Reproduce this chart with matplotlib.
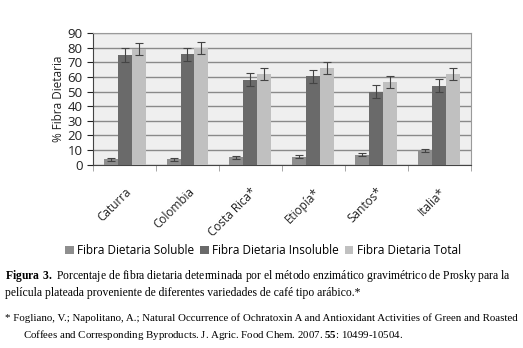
import numpy as np
import matplotlib
matplotlib.use("Agg")
import matplotlib.pyplot as plt
from matplotlib.transforms import ScaledTranslation

# Datos
variedades = ["Caturra", "Colombia", "Costa Rica*", "Etiopía*", "Santos*", "Italia*"]
soluble = [3.8, 3.8, 5.0, 5.5, 6.8, 9.8]
insoluble = [75.0, 75.5, 58.0, 60.5, 50.0, 54.0]
total = [79.0, 80.0, 62.0, 66.0, 56.5, 62.0]
err_soluble = [1.0, 1.0, 1.0, 1.0, 1.0, 1.2]
err_insoluble = [4.5, 4.5, 4.5, 4.5, 4.5, 4.5]
err_total = [4.0, 4.0, 4.0, 4.0, 4.0, 4.0]
series = ["Fibra Dietaria Soluble", "Fibra Dietaria Insoluble", "Fibra Dietaria Total"]

colores = ["#8e8e8e", "#6a6a6a", "#c0c0c0"]
plt.rcParams["font.family"] = ["Open Sans", "DejaVu Sans"]
plt.rcParams["mathtext.fontset"] = "custom"
plt.rcParams["mathtext.rm"] = "Liberation Serif"
plt.rcParams["mathtext.bf"] = "Liberation Serif:bold"

fig = plt.figure(figsize=(5.23, 3.48), dpi=100)
ax = fig.add_axes([0.178, 0.527, 0.722, 0.378])
ax.set_facecolor("#efefef")

x = np.arange(len(variedades))
w = 0.222
datos = [(soluble, err_soluble), (insoluble, err_insoluble), (total, err_total)]
for i, (vals, errs) in enumerate(datos):
    ax.bar(x + (i - 1) * w, vals, w, color=colores[i], label=series[i], zorder=3,
           yerr=errs, error_kw=dict(ecolor="#444444", elinewidth=0.8, capsize=3, capthick=0.8))

ax.set_xlim(-0.5, len(variedades) - 0.5)
ax.set_ylim(0, 90)
ax.set_yticks(range(0, 91, 10))
ax.yaxis.grid(True, color="#8a8a8a", linewidth=1.0, zorder=0)
ax.set_axisbelow(True)

ax.set_xticks(x)
ax.set_xticklabels(variedades, rotation=45, ha="right", rotation_mode="anchor", fontsize=8.5, color="#222222")
desplaza = ScaledTranslation(-7 / 100, 0, fig.dpi_scale_trans)
for lbl in ax.get_xticklabels():
    lbl.set_transform(lbl.get_transform() + desplaza)
ax.set_xticks(np.arange(-0.5, len(variedades), 1), minor=True)
ax.tick_params(axis="x", which="major", length=0, pad=15)
ax.tick_params(axis="x", which="minor", length=4, color="#999999")
ax.tick_params(axis="y", labelsize=9.5, length=4, colors="#222222")
ax.set_ylabel("% Fibra Dietaria", fontsize=8.5, color="#222222", labelpad=2)

for lado in ["top", "right"]:
    ax.spines[lado].set_color("#9a9a9a")
ax.spines["left"].set_color("#444444")
ax.spines["bottom"].set_color("#444444")

fig.legend(loc="center", bbox_to_anchor=(0.503, 0.28), ncol=3, frameon=False, fontsize=8.5,
           handlelength=0.7, handleheight=0.7, handletextpad=0.3, columnspacing=0.5)

fig.text(0.010, 0.208,
         r"$\bf{Figura\ 3.}$ Porcentaje de fibra dietaria determinada por el método enzimático gravimétrico de Prosky para la",
         family="Liberation Serif", fontsize=8.4, va="center")
fig.text(0.010, 0.158,
         "película plateada proveniente de diferentes variedades de café tipo arábico.*",
         family="Liberation Serif", fontsize=8.4, va="center")
fig.text(0.010, 0.086,
         "* Fogliano, V.; Napolitano, A.; Natural Occurrence of Ochratoxin A and Antioxidant Activities of Green and Roasted",
         family="Liberation Serif", fontsize=7.8, va="center")
fig.text(0.044, 0.037,
         r"Coffees and Corresponding Byproducts. J. Agric. Food Chem. 2007. $\bf{55}$: 10499-10504.",
         family="Liberation Serif", fontsize=7.8, va="center")

fig.savefig("out.png", dpi=100)
